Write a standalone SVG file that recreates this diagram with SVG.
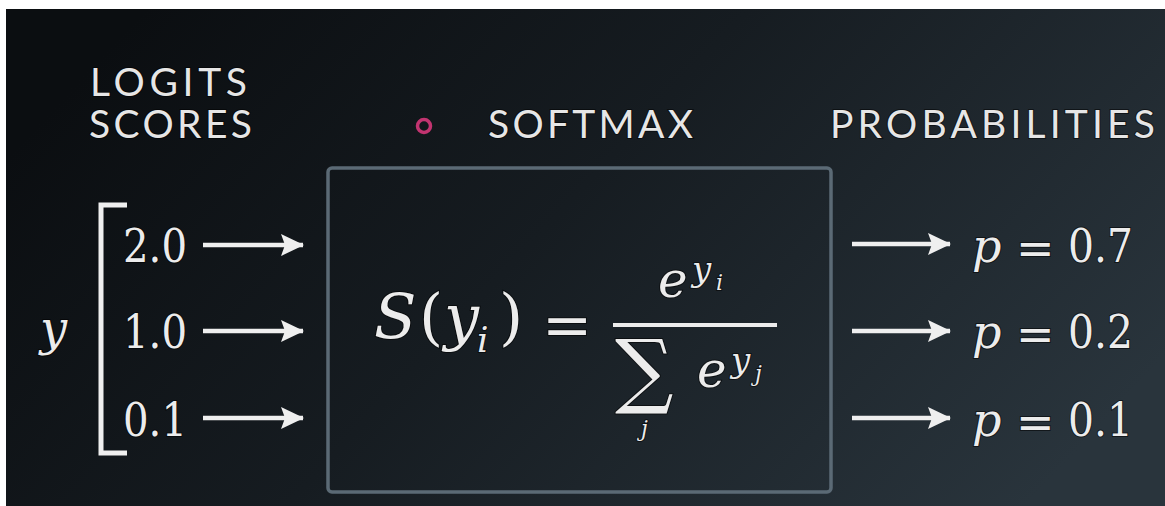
<svg xmlns="http://www.w3.org/2000/svg" width="1165" height="506" viewBox="0 0 1165 506">
<defs>
<linearGradient id="bg" x1="0" y1="0.3" x2="1" y2="0.7">
<stop offset="0" stop-color="#0b0e11"/>
<stop offset="0.45" stop-color="#161c21"/>
<stop offset="1" stop-color="#29343c"/>
</linearGradient>
<marker id="ah" viewBox="0 0 23 22" markerWidth="23" markerHeight="22" refX="22" refY="11" orient="auto" markerUnits="userSpaceOnUse">
<path d="M0,0 L23,11 L0,22 L4,11 z" fill="#efefef"/>
</marker>
<style>
.hd{font-family:Lato,"Open Sans",sans-serif;font-size:39px;fill:#e6e6e6;stroke:#000;stroke-width:2;stroke-opacity:0.5;paint-order:stroke}
.m{fill:#ececec;stroke:#000;stroke-width:2;stroke-opacity:0.55;paint-order:stroke}
.i{font-style:italic}
.arr{stroke:#efefef;stroke-width:4.5;fill:none;marker-end:url(#ah)}
</style>
</defs>
<rect x="0" y="0" width="1165" height="506" fill="#ffffff"/>
<rect x="6" y="9" width="1159" height="497" fill="url(#bg)"/>

<g id="labels">
<text class="hd" x="90" y="96" textLength="157" lengthAdjust="spacing">LOGITS</text>
<text class="hd" x="89" y="138" textLength="163" lengthAdjust="spacing">SCORES</text>
<circle cx="424" cy="126" r="6.5" fill="none" stroke="#c23470" stroke-width="3.5"/>
<text class="hd" x="488" y="138" textLength="205" lengthAdjust="spacing">SOFTMAX</text>
<text class="hd" x="830" y="138" textLength="325" lengthAdjust="spacing">PROBABILITIES</text>
</g>

<g id="logits" font-family="DejaVu Serif, Liberation Serif, serif">
<text class="m i" x="40" y="345" font-size="48">y</text>
<path d="M127,205 L101,205 L101,453 L127,453" fill="none" stroke="#efefef" stroke-width="5"/>
<text class="m" x="123" y="262" font-size="46" textLength="64" lengthAdjust="spacingAndGlyphs">2.0</text>
<text class="m" x="123" y="348" font-size="46" textLength="64" lengthAdjust="spacingAndGlyphs">1.0</text>
<text class="m" x="123" y="436" font-size="46" textLength="64" lengthAdjust="spacingAndGlyphs">0.1</text>
</g>

<g id="softmax" font-family="DejaVu Serif, Liberation Serif, serif">
<rect x="328" y="168" width="503" height="324" rx="4" fill="none" stroke="#5b6a75" stroke-width="3.5"/>
<text class="m i" x="374" y="338" font-size="62">S</text>
<text class="m" x="419" y="338" font-size="62">(</text>
<text class="m i" x="444" y="338" font-size="62">y</text>
<text class="m i" x="477" y="352" font-size="36">i</text>
<text class="m" x="499" y="338" font-size="62">)</text>
<text class="m" x="542" y="345" font-size="60">=</text>
<text class="m i" x="658" y="297" font-size="50">e</text>
<text class="m i" x="692" y="281" font-size="34">y</text>
<text class="m i" x="716" y="290" font-size="22">i</text>
<line x1="613" y1="325" x2="777" y2="325" stroke="#ececec" stroke-width="4"/>
<text class="m" x="615" y="398" font-size="82">∑</text>
<text class="m i" x="641" y="436" font-size="22">j</text>
<text class="m i" x="697" y="387" font-size="50">e</text>
<text class="m i" x="731" y="372" font-size="34">y</text>
<text class="m i" x="755" y="381" font-size="22">j</text>
</g>

<g id="probabilities" font-family="DejaVu Serif, Liberation Serif, serif">
<text class="m i" x="972" y="262" font-size="46">p</text>
<text class="m" x="1016" y="264" font-size="46">=</text>
<text class="m" x="1068" y="262" font-size="46" textLength="65" lengthAdjust="spacingAndGlyphs">0.7</text>
<text class="m i" x="972" y="348" font-size="46">p</text>
<text class="m" x="1016" y="350" font-size="46">=</text>
<text class="m" x="1068" y="348" font-size="46" textLength="65" lengthAdjust="spacingAndGlyphs">0.2</text>
<text class="m i" x="972" y="436" font-size="46">p</text>
<text class="m" x="1016" y="438" font-size="46">=</text>
<text class="m" x="1068" y="436" font-size="46" textLength="65" lengthAdjust="spacingAndGlyphs">0.1</text>
</g>

<g id="connectors">
<line class="arr" x1="203" y1="245" x2="303" y2="245"/>
<line class="arr" x1="203" y1="331" x2="303" y2="331"/>
<line class="arr" x1="203" y1="418" x2="303" y2="418"/>
<line class="arr" x1="852" y1="244" x2="950" y2="244"/>
<line class="arr" x1="852" y1="331" x2="950" y2="331"/>
<line class="arr" x1="852" y1="418" x2="950" y2="418"/>
</g>
</svg>
